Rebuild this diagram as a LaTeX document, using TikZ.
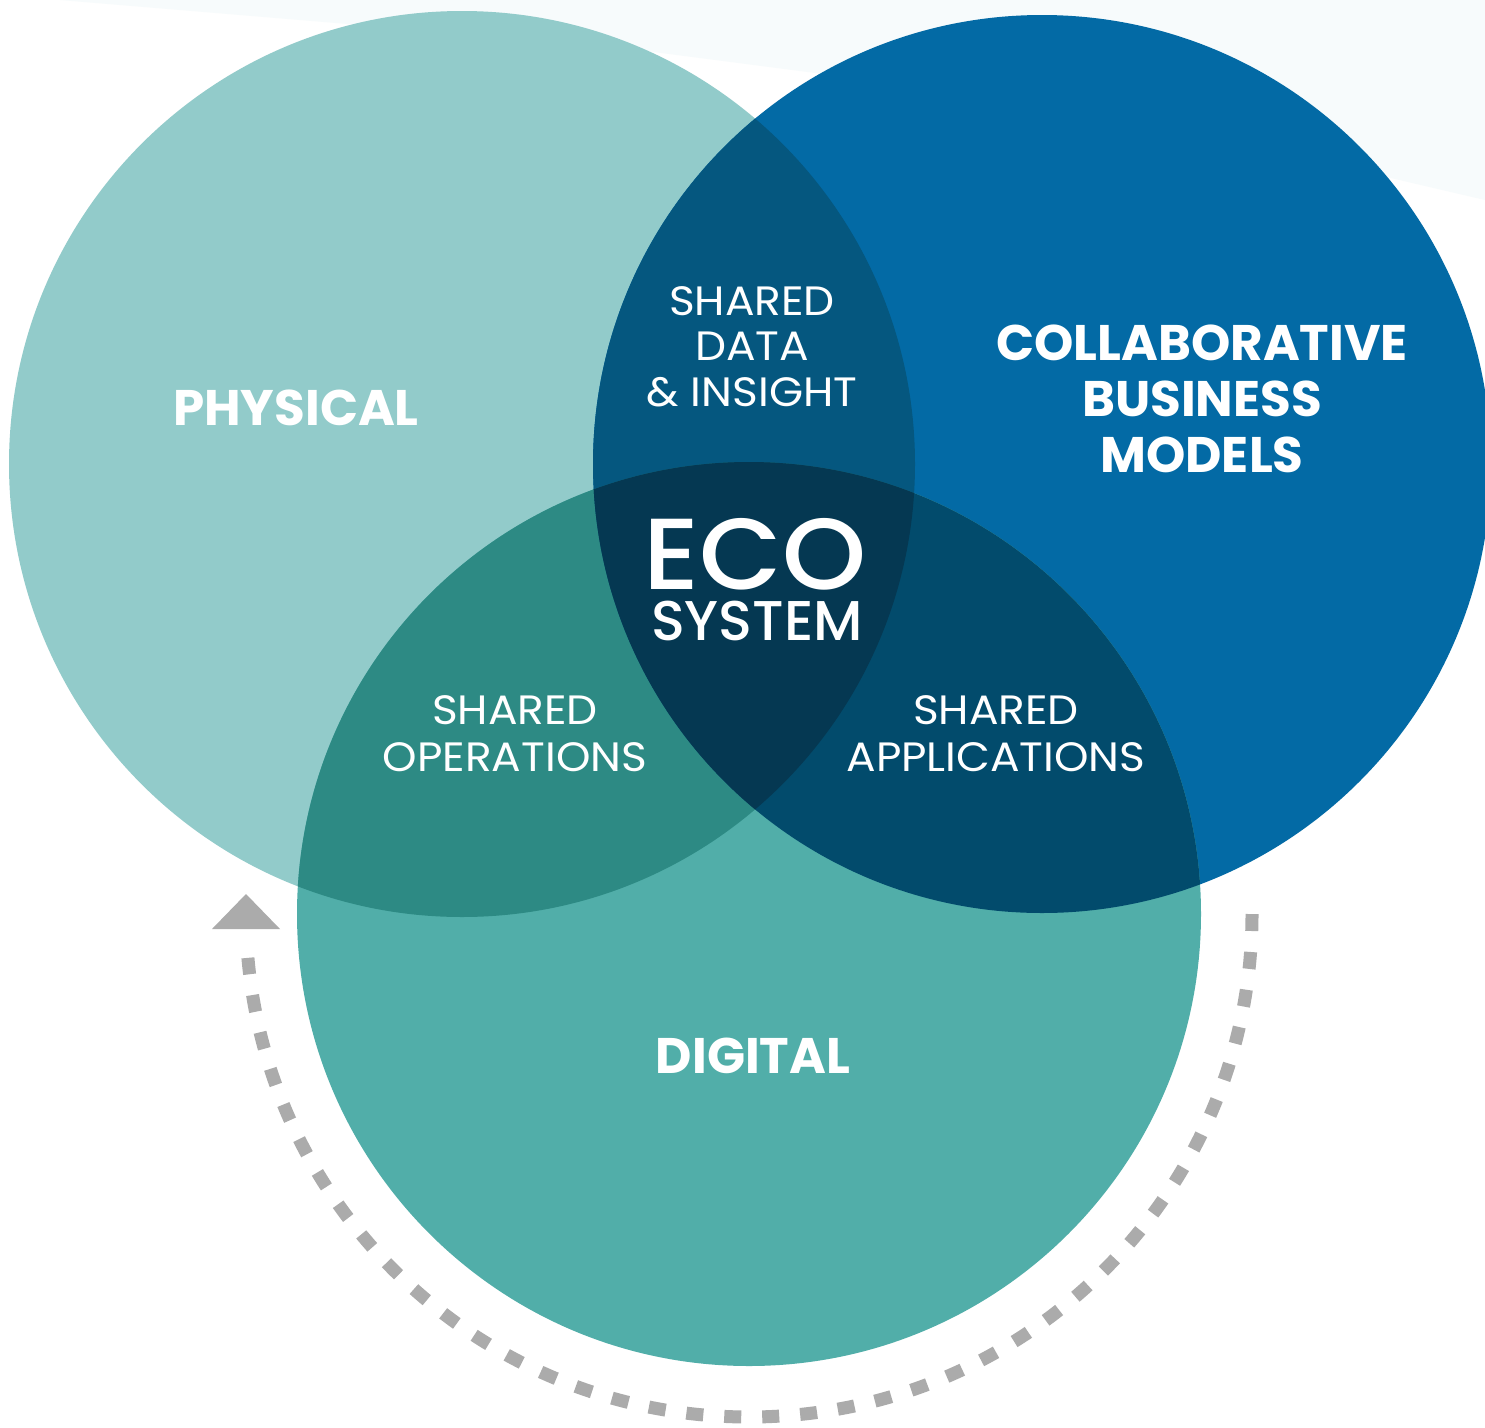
\documentclass[tikz,border=0pt]{standalone}
\usepackage{fontspec}
\setmainfont{Poppins}
\newfontfamily\popmed{Poppins Medium}
\definecolor{bgband}{HTML}{F7FBFC}
\definecolor{physc}{HTML}{92CBCA}
\definecolor{collc}{HTML}{036AA5}
\definecolor{digic}{HTML}{51AEA9}
\definecolor{pcc}{HTML}{05577F}
\definecolor{pdc}{HTML}{2D8A84}
\definecolor{cdc}{HTML}{024B6C}
\definecolor{allc}{HTML}{053852}
\definecolor{dashc}{HTML}{ABABAB}
\tikzset{
  lbl/.style={text=white, inner sep=0pt, anchor=base},
  boldlbl/.style={lbl, font=\fontsize{50}{56}\selectfont\bfseries},
  sharedlbl/.style={lbl, xscale=1.07, font=\fontsize{41}{46}\selectfont},
}
\begin{document}
\begin{tikzpicture}[x=1pt,y=1pt]
\useasboundingbox (0,0) rectangle (1485,-1427);
\fill[white] (0,0) rectangle (1485,-1427);
\fill[bgband] (60,0) -- (600,-45) -- (1100,-110) -- (1485,-200) -- (1485,0) -- cycle;
\coordinate (cp) at (462,-464);
\coordinate (cc) at (1042,-464);
\coordinate (cd) at (749,-914);
\def\rp{453}\def\rc{449}\def\rd{452}
\fill[physc] (cp) circle[radius=\rp];
\fill[collc] (cc) circle[radius=\rc];
\fill[digic] (cd) circle[radius=\rd];
\begin{scope}
  \clip (cp) circle[radius=\rp];
  \fill[pcc] (cc) circle[radius=\rc];
  \fill[pdc] (cd) circle[radius=\rd];
\end{scope}
\begin{scope}
  \clip (cc) circle[radius=\rc];
  \fill[cdc] (cd) circle[radius=\rd];
\end{scope}
\begin{scope}
  \clip (cp) circle[radius=\rp];
  \clip (cc) circle[radius=\rc];
  \fill[allc] (cd) circle[radius=\rd];
\end{scope}
% dashed return arc
\draw[dashc, line width=13, dash pattern=on 17 off 21] (cd) ++(0:503) coordinate (arcs) arc[start angle=0, end angle=-175, radius=503] coordinate (arce);
\coordinate (tip) at (246,-894);
\fill[dashc] (tip) -- (212,-929) -- (280,-929) -- cycle;
% labels
\node[boldlbl] (physical) at (296,-425) {PHYSICAL};
\node[boldlbl] (coll1) at (1202,-360) {COLLABORATIVE};
\node[boldlbl] (coll2) at (1202,-416) {BUSINESS};
\node[boldlbl] (coll3) at (1202,-472) {MODELS};
\node[boldlbl] (digital) at (753,-1073) {DIGITAL};
\node[sharedlbl] (sd1) at (752,-315) {SHARED};
\node[sharedlbl] (sd2) at (752,-360) {DATA};
\node[sharedlbl] (sd3) at (752,-406) {\&~INSIGHT};
\node[sharedlbl] (so1) at (515,-724) {SHARED};
\node[sharedlbl] (so2) at (515,-771) {OPERATIONS};
\node[sharedlbl] (sa1) at (996,-724) {SHARED};
\node[sharedlbl] (sa2) at (996,-771) {APPLICATIONS};
\node[lbl, text depth=0pt, xscale=1.06, font=\fontsize{101}{101}\popmed\selectfont] (eco) at (755,-589) {ECO};
\node[lbl, text height=40pt, font=\fontsize{56}{56}\popmed\selectfont] (system) at (757,-640) {SYSTEM};
\end{tikzpicture}
\end{document}
